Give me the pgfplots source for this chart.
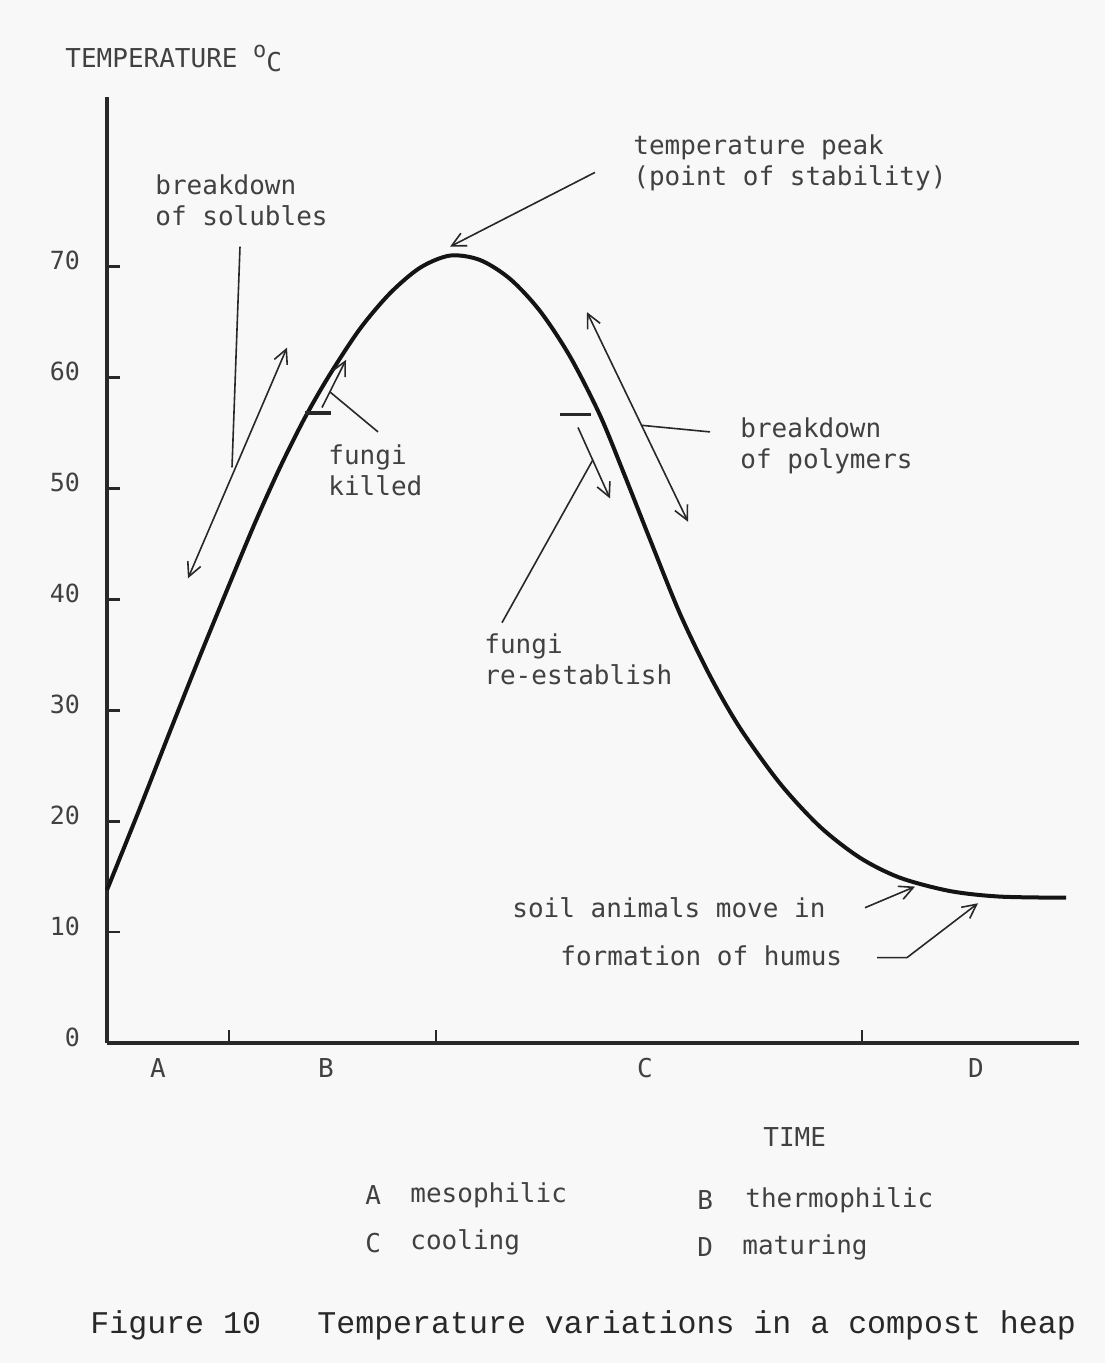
\documentclass[border=0pt]{standalone}
\usepackage{pgfplots}
\pgfplotsset{compat=1.18}
\usetikzlibrary{arrows.meta}
\usepackage{fontspec}
\setmainfont{DejaVu Sans Mono}
\newfontfamily\capfont{Liberation Mono}
\definecolor{bg}{RGB}{248,248,248}
\definecolor{ink}{RGB}{40,40,40}
\definecolor{txt}{RGB}{65,65,65}
\definecolor{curve}{RGB}{20,20,20}
\tikzset{
  ann/.style={line width=0.8pt, ink},
  arr/.style={-{Straight Barb[length=7pt,width=7pt]}},
  dbl/.style={{Straight Barb[length=7pt,width=7pt]}-{Straight Barb[length=7pt,width=7pt]}},
  bar/.style={line width=1.6pt, ink},
  lab/.style={font=\fontsize{13}{15.5}\selectfont, text=txt, align=left, inner sep=0pt},
}
\begin{document}
\begin{tikzpicture}
\path[use as bounding box, fill=bg] (-53.5pt,-160pt) rectangle (499pt,521.5pt);
\begin{axis}[
  at={(0pt,0pt)}, anchor=south west,
  scale only axis, width=486pt, height=473pt,
  xmin=0, xmax=97.2, ymin=0, ymax=85.3,
  axis lines=left,
  axis line style={-, line width=1.6pt, ink},
  clip=false,
  tick align=inside,
  major tick length=6.5pt,
  tick style={line width=1.4pt, ink},
  xtick={12.2,32.9,75.5},
  xticklabels={,,},
  extra x ticks={5.1,21.9,53.8,86.9},
  extra x tick labels={A,B,C,D},
  extra x tick style={major tick length=0pt},
  xticklabel style={font=\fontsize{13}{15}\selectfont, text=txt, yshift=-4pt},
  ytick={0,10,20,30,40,50,60,70},
  yticklabels={0,10,20,30,40,50,60,70},
  yticklabel style={font=\fontsize{12.5}{14}\selectfont, text=txt, xshift=-10pt, yshift=3pt},
  /pgf/number format/assume math mode=true,
]
\addplot[smooth, line width=2pt, color=curve] coordinates {
  (0,13.8) (3.3,21.2) (6.3,28.1) (9.3,34.9) (12.3,41.5) (14.8,46.9)
  (17.3,51.9) (19.8,56.4) (22.3,60.3) (25.3,64.4) (28.3,67.6) (31.3,69.9)
  (34.3,71.0) (37.3,70.6) (40.3,68.9) (43.3,66.0) (46.3,61.9) (49.3,56.6)
  (51.8,51.1) (54.3,45.4) (57.3,38.7) (60.3,33.1) (63.3,28.4) (67.3,23.4)
  (71.3,19.5) (75.3,16.7) (79.3,14.9) (84.3,13.7) (89.3,13.2) (95.9,13.1)
};
% breakdown of solubles
\draw[ann] (13.3,71.8) -- (12.5,51.9);
\draw[ann, dbl] (8.1,41.9) -- (18.0,62.7);
% fungi killed
\draw[bar] (19.8,56.8) -- (22.4,56.8);
\draw[ann, arr] (21.5,57.3) -- (23.9,61.6);
\draw[ann] (27.1,55.1) -- (22.3,58.7);
% temperature peak
\draw[ann, arr] (48.8,78.5) -- (34.3,71.8);
% fungi re-establish
\draw[bar] (45.3,56.7) -- (48.4,56.7);
\draw[ann, arr] (47.1,55.5) -- (50.3,49.1);
\draw[ann] (39.5,37.9) -- (48.6,52.6);
% breakdown of polymers
\draw[ann, dbl] (48.0,65.9) -- (58.1,47.0);
\draw[ann] (53.4,55.7) -- (60.3,55.1);
% soil animals / humus
\draw[ann, arr] (75.8,12.2) -- (80.8,14.1);
\draw[ann, arr] (77.0,7.7) -- (80.0,7.7) -- (87.1,12.6);
% texts
\node[lab, anchor=west] at (4.8,76.0) {breakdown\\of solubles};
\node[lab, anchor=west] at (52.6,79.4) {temperature peak\\(point of stability)};
\node[lab, anchor=west] at (22.1,51.6) {fungi\\killed};
\node[lab, anchor=west] at (63.3,53.8) {breakdown\\of polymers};
\node[lab, anchor=west] at (37.7,34.6) {fungi\\re-establish};
\node[lab, anchor=west] at (40.5,12.2) {soil animals move in};
\node[lab, anchor=west] at (45.3,7.9) {formation of humus};
\node[lab, anchor=west] at (-4.2,88.8) {TEMPERATURE \raisebox{5pt}{\fontsize{11}{12}\selectfont o}\raisebox{-2pt}{C}};
\node[lab, anchor=west] at (65.6,-8.5) {TIME};
\node[lab, anchor=west] at (25.8,-13.7) {A};
\node[lab, anchor=west] at (30.3,-13.7) {mesophilic};
\node[lab, anchor=west] at (59.0,-14.2) {B};
\node[lab, anchor=west] at (63.8,-14.2) {thermophilic};
\node[lab, anchor=west] at (25.8,-18.0) {C};
\node[lab, anchor=west] at (30.3,-18.0) {cooling};
\node[lab, anchor=west] at (59.0,-18.4) {D};
\node[lab, anchor=west] at (63.5,-18.4) {maturing};
\node[anchor=west, inner sep=0pt, text=ink, font=\capfont\fontsize{15.8}{18}\selectfont] at (-1.7,-25.5) {Figure 10};
\node[anchor=west, inner sep=0pt, text=ink, font=\capfont\fontsize{15.8}{18}\selectfont] at (21.0,-25.5) {Temperature variations in a compost heap};
\end{axis}
\end{tikzpicture}
\end{document}
